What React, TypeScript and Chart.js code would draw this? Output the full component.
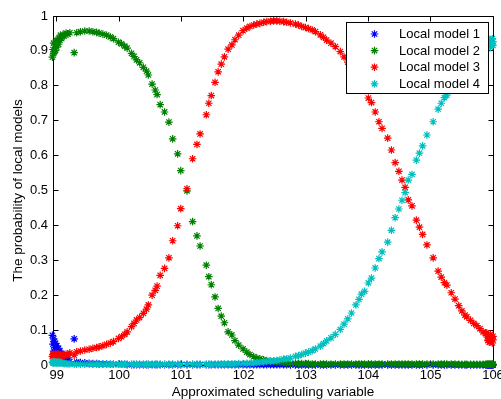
import React, { useEffect, useRef } from 'react';
import { Chart, registerables } from 'chart.js';

Chart.register(...registerables);

// Shared sample positions (approximated scheduling variable)
const xValues = [
  98.93, 98.94, 98.95, 98.95, 98.96, 98.97, 98.98, 98.99, 99.0, 99.01, 99.02, 99.03, 99.04, 99.05, 99.06, 99.08, 99.1, 99.12, 99.15, 99.18, 99.21, 99.28, 99.32,
  99.38, 99.45, 99.52, 99.58, 99.64, 99.68, 99.74, 99.8, 99.86, 99.91, 99.99, 100.04, 100.09, 100.13, 100.2, 100.24, 100.28, 100.33, 100.39, 100.44, 100.47, 100.53, 100.58, 100.61,
  100.66, 100.73, 100.8, 100.86, 100.94, 100.99, 101.09, 101.18, 101.25, 101.3, 101.4, 101.44,
  101.48, 101.54, 101.59, 101.64, 101.69, 101.75, 101.81, 101.86, 101.92, 101.99, 102.05, 102.1, 102.16, 102.21, 102.26, 102.32, 102.37, 102.43, 102.48, 102.53, 102.58, 102.64, 102.69,
  102.75, 102.83, 102.88, 102.93, 102.99, 103.04, 103.1, 103.15, 103.23, 103.28, 103.33, 103.4, 103.47, 103.55, 103.61, 103.67, 103.73, 103.8, 103.85, 103.89, 103.94, 104.0, 104.05,
  104.11, 104.17, 104.22, 104.31, 104.37, 104.43, 104.49, 104.54, 104.59, 104.64, 104.7, 104.77, 104.82, 104.87, 104.94, 105.04, 105.12, 105.17, 105.22, 105.26, 105.33, 105.39,
  105.45, 105.5, 105.55, 105.58, 105.64, 105.69, 105.74, 105.79, 105.84, 105.88,
  105.9, 105.91, 105.92, 105.93, 105.94, 105.95, 105.96, 105.97, 105.98, 105.99, 106.0, 106.0,
];

const model1 = [
  0.085, 0.06, 0.075, 0.04, 0.068, 0.05, 0.062, 0.035, 0.055, 0.045, 0.03, 0.048, 0.025, 0.04, 0.02, 0.033, 0.018, 0.026, 0.014, 0.02, 0.01, 0.075, 0.008,
  0.007, 0.006, 0.005, 0.004, 0.004, 0.003, 0.003, 0.003, 0.002, 0.002, 0.002, 0.002, 0.002, 0.001, 0.001, 0.001, 0.001, 0.001, 0.001, 0.001, 0.001, 0.001, 0.001, 0.001,
  0.001, 0.001, 0.001, 0.001, 0.001, 0.001, 0.001, 0.001, 0.001, 0.001, 0.001, 0.001,
  0.001, 0.001, 0.001, 0.001, 0.001, 0.001, 0.001, 0.001, 0.001, 0.001, 0.001, 0.001, 0.001, 0.001, 0.001, 0.001, 0.001, 0.001, 0.001, 0.001, 0.001, 0.001, 0.001,
  0.0, 0.0, 0.0, 0.0, 0.0, 0.0, 0.0, 0.0, 0.0, 0.0, 0.0, 0.0, 0.0, 0.0, 0.0, 0.0, 0.0, 0.0, 0.0, 0.0, 0.0, 0.0, 0.0,
  0.0, 0.0, 0.0, 0.0, 0.0, 0.0, 0.0, 0.0, 0.0, 0.0, 0.0, 0.0, 0.0, 0.0, 0.0, 0.0, 0.0, 0.0, 0.0, 0.0, 0.0, 0.0,
  0.0, 0.0, 0.0, 0.0, 0.0, 0.0, 0.0, 0.0, 0.0, 0.0,
  0.0, 0.0, 0.0, 0.0, 0.0, 0.0, 0.0, 0.0, 0.0, 0.0, 0.0, 0.0,
];

const model2 = [
  0.882, 0.904, 0.893, 0.922, 0.897, 0.917, 0.901, 0.931, 0.911, 0.925, 0.929, 0.919, 0.937, 0.93, 0.945, 0.935, 0.947, 0.943, 0.951, 0.948, 0.952, 0.895, 0.952,
  0.955, 0.957, 0.957, 0.955, 0.953, 0.951, 0.948, 0.945, 0.94, 0.935, 0.925, 0.92, 0.914, 0.908, 0.893, 0.884, 0.874, 0.866, 0.853, 0.842, 0.831, 0.805, 0.788, 0.775,
  0.746, 0.725, 0.696, 0.648, 0.605, 0.557, 0.499, 0.411, 0.37, 0.341, 0.286, 0.253,
  0.23, 0.195, 0.162, 0.14, 0.121, 0.095, 0.086, 0.07, 0.057, 0.046, 0.037, 0.03, 0.024, 0.02, 0.018, 0.015, 0.013, 0.011, 0.01, 0.009, 0.008, 0.007, 0.006,
  0.005, 0.005, 0.004, 0.004, 0.004, 0.004, 0.003, 0.003, 0.003, 0.003, 0.003, 0.003, 0.003, 0.003, 0.003, 0.003, 0.003, 0.003, 0.003, 0.003, 0.003, 0.003, 0.003,
  0.003, 0.003, 0.003, 0.003, 0.003, 0.003, 0.003, 0.003, 0.003, 0.003, 0.003, 0.003, 0.003, 0.003, 0.003, 0.003, 0.003, 0.003, 0.003, 0.003, 0.003, 0.003,
  0.002, 0.002, 0.002, 0.002, 0.002, 0.002, 0.002, 0.002, 0.002, 0.002,
  0.002, 0.002, 0.002, 0.002, 0.002, 0.002, 0.002, 0.002, 0.002, 0.002, 0.002, 0.002,
];

const model3 = [
  0.025, 0.03, 0.022, 0.033, 0.028, 0.024, 0.031, 0.026, 0.029, 0.023, 0.032, 0.027, 0.03, 0.025, 0.028, 0.026, 0.03, 0.027, 0.031, 0.029, 0.035, 0.028, 0.038,
  0.04, 0.043, 0.045, 0.048, 0.05, 0.052, 0.055, 0.059, 0.063, 0.067, 0.076, 0.081, 0.088, 0.095, 0.11, 0.119, 0.129, 0.136, 0.148, 0.16, 0.172, 0.2, 0.214, 0.226,
  0.257, 0.277, 0.307, 0.356, 0.399, 0.448, 0.505, 0.591, 0.632, 0.662, 0.717, 0.75,
  0.772, 0.81, 0.84, 0.862, 0.883, 0.905, 0.917, 0.932, 0.945, 0.958, 0.965, 0.97, 0.974, 0.977, 0.979, 0.982, 0.984, 0.985, 0.986, 0.986, 0.985, 0.984, 0.982,
  0.98, 0.977, 0.974, 0.97, 0.967, 0.964, 0.96, 0.955, 0.946, 0.939, 0.931, 0.922, 0.912, 0.898, 0.883, 0.868, 0.851, 0.828, 0.812, 0.797, 0.787, 0.765, 0.752,
  0.725, 0.697, 0.678, 0.65, 0.616, 0.58, 0.555, 0.53, 0.509, 0.473, 0.456, 0.415, 0.395, 0.374, 0.344, 0.307, 0.269, 0.252, 0.236, 0.229, 0.207, 0.189,
  0.17, 0.155, 0.143, 0.138, 0.128, 0.119, 0.113, 0.104, 0.095, 0.09,
  0.092, 0.08, 0.07, 0.085, 0.065, 0.075, 0.088, 0.068, 0.078, 0.063, 0.072, 0.082,
];

const model4 = [
  0.008, 0.006, 0.01, 0.005, 0.007, 0.009, 0.006, 0.008, 0.005, 0.007, 0.009, 0.006, 0.008, 0.005, 0.007, 0.006, 0.005, 0.004, 0.004, 0.003, 0.003, 0.002, 0.002,
  0.002, 0.002, 0.002, 0.002, 0.002, 0.002, 0.002, 0.002, 0.002, 0.002, 0.002, 0.002, 0.002, 0.002, 0.002, 0.002, 0.002, 0.002, 0.002, 0.002, 0.002, 0.002, 0.002, 0.002,
  0.002, 0.002, 0.002, 0.002, 0.002, 0.002, 0.002, 0.002, 0.002, 0.002, 0.002, 0.002,
  0.002, 0.002, 0.002, 0.003, 0.003, 0.003, 0.003, 0.003, 0.004, 0.004, 0.005, 0.005, 0.006, 0.007, 0.008, 0.009, 0.01, 0.011, 0.012, 0.013, 0.015, 0.017, 0.018,
  0.02, 0.025, 0.027, 0.03, 0.034, 0.037, 0.041, 0.046, 0.054, 0.061, 0.069, 0.078, 0.088, 0.102, 0.117, 0.132, 0.149, 0.172, 0.188, 0.203, 0.211, 0.235, 0.249,
  0.278, 0.305, 0.324, 0.352, 0.386, 0.422, 0.447, 0.472, 0.494, 0.53, 0.546, 0.587, 0.607, 0.628, 0.659, 0.697, 0.733, 0.75, 0.766, 0.773, 0.795, 0.812,
  0.829, 0.843, 0.855, 0.86, 0.87, 0.879, 0.885, 0.894, 0.903, 0.908,
  0.906, 0.918, 0.928, 0.913, 0.933, 0.923, 0.91, 0.93, 0.92, 0.935, 0.926, 0.916,
];

const seriesLabels = ['Local model 1', 'Local model 2', 'Local model 3', 'Local model 4'];
const seriesColors = ['#0000ff', '#008000', '#ff0000', '#00bfbf'];
const seriesValues = [model1, model2, model3, model4];

const xTickValues = [99, 100, 101, 102, 103, 104, 105, 106];
const yTickValues = [0, 0.1, 0.2, 0.3, 0.4, 0.5, 0.6, 0.7, 0.8, 0.9, 1];
const yTickLabels = ['0', '0.1', '0.2', '0.3', '0.4', '0.5', '0.6', '0.7', '0.8', '0.9', '1'];
const xTitle = 'Approximated scheduling variable';
const yTitle = 'The probability of local models';

const FONT = '"Liberation Sans", Arial, Helvetica, sans-serif';
const MARKER_R = 3.8;
const MARKER_W = 1.2;

function drawStar(ctx: CanvasRenderingContext2D, cx: number, cy: number, r: number, color: string) {
  ctx.save();
  ctx.strokeStyle = color;
  ctx.lineWidth = MARKER_W;
  ctx.beginPath();
  ctx.moveTo(cx - r, cy);
  ctx.lineTo(cx + r, cy);
  ctx.moveTo(cx, cy - r);
  ctx.lineTo(cx, cy + r);
  const d = r * Math.SQRT1_2;
  ctx.moveTo(cx - d, cy - d);
  ctx.lineTo(cx + d, cy + d);
  ctx.moveTo(cx - d, cy + d);
  ctx.lineTo(cx + d, cy - d);
  ctx.stroke();
  ctx.restore();
}

const framePlugin = {
  id: 'matlabFrame',
  beforeDatasetsDraw(chart: any) {
    const { ctx, chartArea, scales } = chart;
    const { left, right, top, bottom } = chartArea;
    const L = Math.floor(left) + 0.5;
    const R = Math.floor(right) + 0.5;
    const T = Math.floor(top) + 0.5;
    const B = Math.floor(bottom) + 0.5;
    ctx.save();
    ctx.strokeStyle = '#000';
    ctx.lineWidth = 1;
    ctx.beginPath();
    ctx.rect(L, T, R - L, B - T);
    const tl = 5;
    for (const v of xTickValues) {
      const px = Math.floor(scales.x.getPixelForValue(v)) + 0.5;
      ctx.moveTo(px, B);
      ctx.lineTo(px, B - tl);
      ctx.moveTo(px, T);
      ctx.lineTo(px, T + tl);
    }
    for (const v of yTickValues) {
      const py = Math.floor(scales.y.getPixelForValue(v)) + 0.5;
      ctx.moveTo(L, py);
      ctx.lineTo(L + tl, py);
      ctx.moveTo(R, py);
      ctx.lineTo(R - tl, py);
    }
    ctx.stroke();
    ctx.restore();
  },
  afterDraw(chart: any) {
    const { ctx, chartArea } = chart;
    const { left, right, top, bottom } = chartArea;
    ctx.save();
    ctx.fillStyle = '#000';
    ctx.font = `13.5px ${FONT}`;
    ctx.textAlign = 'center';
    ctx.textBaseline = 'alphabetic';
    ctx.fillText(xTitle, (left + right) / 2, 396);
    ctx.translate(21.5, (top + bottom) / 2);
    ctx.rotate(-Math.PI / 2);
    ctx.fillText(yTitle, 0, 0);
    ctx.restore();

    // legend box (inside the axes, top right)
    const boxL = 346.5;
    const boxT = 22.5;
    const boxW = 142;
    const boxH = 71;
    ctx.save();
    ctx.fillStyle = '#fff';
    ctx.fillRect(boxL, boxT, boxW, boxH);
    ctx.strokeStyle = '#000';
    ctx.lineWidth = 1;
    ctx.strokeRect(boxL, boxT, boxW, boxH);
    ctx.font = `13px ${FONT}`;
    ctx.textAlign = 'left';
    ctx.textBaseline = 'middle';
    chart.data.datasets.forEach((ds: any, i: number) => {
      const cy = 34 + i * 16.6;
      drawStar(ctx, 374.5, cy, MARKER_R, ds.borderColor);
      ctx.fillStyle = '#000';
      ctx.fillText(ds.label, 399, cy + 0.5);
    });
    ctx.restore();
  },
};

export default function App() {
  const canvasRef = useRef<HTMLCanvasElement | null>(null);

  useEffect(() => {
    const canvas = canvasRef.current;
    if (!canvas) return;
    const datasets = seriesValues.map((vals, i) => ({
      label: seriesLabels[i],
      data: vals.map((v, j) => ({ x: xValues[j], y: v })),
      borderColor: seriesColors[i],
      backgroundColor: seriesColors[i],
      pointStyle: 'star' as const,
      pointRadius: MARKER_R,
      pointBorderWidth: MARKER_W,
      pointHoverRadius: MARKER_R,
      showLine: false,
      clip: false as any,
      order: 3 - i,
    }));

    const chart = new Chart(canvas, {
      type: 'scatter',
      data: { datasets },
      options: {
        responsive: false,
        animation: false,
        events: [],
        layout: { padding: { left: 0, right: 8, top: 16, bottom: 0 } },
        plugins: {
          legend: { display: false },
          tooltip: { enabled: false },
          title: { display: false },
        },
        scales: {
          x: {
            type: 'linear',
            min: 98.94,
            max: 106,
            grid: { display: false, drawTicks: false, tickLength: 0 },
            border: { display: false },
            afterBuildTicks: (scale: any) => {
              scale.ticks = xTickValues.map((v) => ({ value: v }));
            },
            afterFit: (scale: any) => {
              scale.height = 34;
              scale.paddingLeft = 0;
              scale.paddingRight = 0;
            },
            ticks: {
              color: '#000',
              font: { family: FONT, size: 13 },
              padding: 3,
              maxRotation: 0,
              autoSkip: false,
              callback: (v: any) => String(v),
            },
          },
          y: {
            type: 'linear',
            min: 0,
            max: 1,
            grid: { display: false, drawTicks: false, tickLength: 0 },
            border: { display: false },
            afterBuildTicks: (scale: any) => {
              scale.ticks = yTickValues.map((v) => ({ value: v }));
            },
            afterFit: (scale: any) => {
              scale.width = 53;
              scale.paddingTop = 0;
              scale.paddingBottom = 0;
            },
            ticks: {
              color: '#000',
              font: { family: FONT, size: 13 },
              padding: 5,
              autoSkip: false,
              callback: (v: any) => {
                const idx = yTickValues.findIndex((t) => Math.abs(t - Number(v)) < 1e-9);
                return idx >= 0 ? yTickLabels[idx] : '';
              },
            },
          },
        },
      },
      plugins: [framePlugin],
    });
    return () => chart.destroy();
  }, []);

  return (
    <div style={{ position: 'absolute', left: 0, top: 0, width: 501, height: 399, background: '#fff' }}>
      <canvas ref={canvasRef} width={501} height={399} style={{ display: 'block' }} />
    </div>
  );
}
